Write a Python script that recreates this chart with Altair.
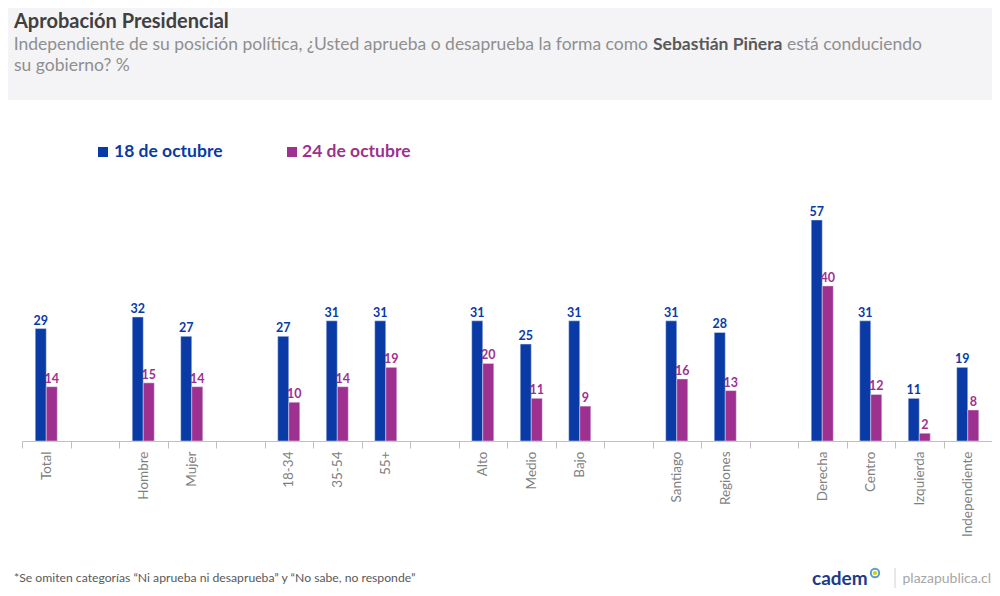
import altair as alt
import pandas as pd

# ---- data -------------------------------------------------------------
slots = ["Total", "_g1", "Hombre", "Mujer", "_g2", "18-34", "35-54", "55+", "_g3",
         "Alto", "Medio", "Bajo", "_g4", "Santiago", "Regiones", "_g5",
         "Derecha", "Centro", "Izquierda", "Independiente"]
categories = ["Total", "Hombre", "Mujer", "18-34", "35-54", "55+", "Alto", "Medio", "Bajo",
              "Santiago", "Regiones", "Derecha", "Centro", "Izquierda", "Independiente"]
oct18 = [29, 32, 27, 27, 31, 31, 31, 25, 31, 31, 28, 57, 31, 11, 19]
oct24 = [14, 15, 14, 10, 14, 19, 20, 11, 9, 16, 13, 40, 12, 2, 8]
series = ["18 de octubre", "24 de octubre"]
colors = ["#0a3aa5", "#9e3090"]

rows = []
for c, a, b in zip(categories, oct18, oct24):
    rows.append({"cat": c, "serie": series[0], "val": a})
    rows.append({"cat": c, "serie": series[1], "val": b})
df = pd.DataFrame(rows)
one = pd.DataFrame({"k": [0]})

W, H = 970, 252
STEP = W / len(slots)
FONT = "Lato"

x = alt.X("cat:N",
          scale=alt.Scale(domain=slots, paddingInner=0, paddingOuter=0),
          axis=alt.Axis(title=None, labelAngle=-90, labelAlign="right", labelBaseline="middle",
                        labelExpr="indexof(datum.label, '_g') == 0 ? '' : datum.label",
                        bandPosition=0.5, tickOffset=-STEP / 2, labelOffset=STEP / 2,
                        domainColor="#bfbfbf", tickColor="#bfbfbf", tickSize=7,
                        labelColor="#7f7f7f", labelFontSize=13.5, labelFont=FONT,
                        labelPadding=3, grid=False))
xo = alt.XOffset("serie:N", scale=alt.Scale(domain=["_a"] + series + ["_b"],
                                            paddingInner=0, paddingOuter=0.2))
y = alt.Y("val:Q", scale=alt.Scale(domain=[0, 65]), axis=None)
col = alt.Color("serie:N", scale=alt.Scale(domain=series, range=colors), legend=None)

bars = alt.Chart(df).mark_bar(stroke="#dfe4f2", strokeWidth=0.5).encode(x=x, xOffset=xo, y=y, color=col)
vals = alt.Chart(df).mark_text(dy=-8, font=FONT, fontSize=12.5, fontWeight="bold").encode(
    x=x, xOffset=xo, y=y, text="val:Q", color=col)


def txt(text, px, py, size, weight="normal", color="#7f7f7f", align="left", baseline="alphabetic"):
    return alt.Chart(one).mark_text(text=text, align=align, baseline=baseline, font=FONT,
                                    fontSize=size, fontWeight=weight, color=color).encode(
        x=alt.value(px), y=alt.value(py))


header = alt.Chart(one).mark_rect(color="#f4f4f6").encode(
    x=alt.value(-14), x2=alt.value(W), y=alt.value(-181), y2=alt.value(-89))

SUBC = "#8f8f8f"
title = txt("Aprobación Presidencial", -8, -161, 20, "bold", "#404040")
sub1a = txt("Independiente de su posición política, ¿Usted aprueba o desaprueba la forma como",
            626, -139, 17.5, "normal", SUBC, align="right")
sub1b = txt("Sebastián Piñera", 631, -139, 17.5, "bold", "#595959")
sub1c = txt("está conduciendo", 765, -139, 17.5, "normal", SUBC)
sub2 = txt("su gobierno? %", -8, -118, 17.5, "normal", SUBC)

leg_sq1 = alt.Chart(one).mark_square(size=100, color=colors[0], opacity=1).encode(
    x=alt.value(81), y=alt.value(-37))
leg_sq2 = alt.Chart(one).mark_square(size=100, color=colors[1], opacity=1).encode(
    x=alt.value(270), y=alt.value(-37))
leg_t1 = txt(series[0], 92, -37, 17.5, "bold", colors[0], baseline="middle")
leg_t2 = txt(series[1], 280, -37, 17.5, "bold", colors[1], baseline="middle")

foot = txt("*Se omiten categorías “Ni aprueba ni desaprueba” y “No sabe, no responde”",
           -8, 389, 12.2, "normal", "#595959", baseline="middle")
cadem = txt("cadem", 790, 390, 19, "bold", "#1d3a8a", baseline="middle")
ring = alt.Chart(one).mark_point(size=70, filled=False, stroke="#1b6fc0", strokeWidth=2).encode(
    x=alt.value(853), y=alt.value(384))
dot = alt.Chart(one).mark_point(size=18, filled=True, color="#c8d400", opacity=1).encode(
    x=alt.value(853), y=alt.value(384))
sep = alt.Chart(one).mark_rule(color="#d0d0d0", strokeWidth=1).encode(
    x=alt.value(873), y=alt.value(379), y2=alt.value(399))
plaza = txt("plazapublica.cl", 969, 390, 14, "normal", "#a6a6a6", align="right", baseline="middle")

chart = alt.layer(
    header, title, sub1a, sub1b, sub1c, sub2,
    leg_sq1, leg_sq2, leg_t1, leg_t2,
    bars, vals,
    foot, cadem, ring, dot, sep, plaza,
).properties(
    width=W, height=H,
    padding={"left": 14, "top": 181, "right": 0, "bottom": 147},
    autosize=alt.AutoSizeParams(type="none"),
    background="white",
).configure_view(stroke=None)

chart.save("out.html", embed_options={"renderer": "svg", "actions": False})
